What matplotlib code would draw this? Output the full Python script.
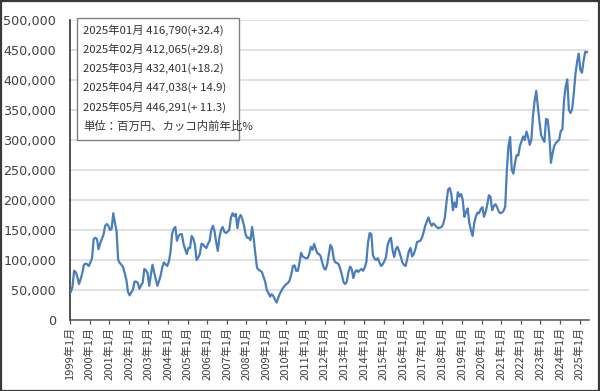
import matplotlib

matplotlib.use("Agg")
import matplotlib.pyplot as plt
from matplotlib.patches import Rectangle

# monthly values (million yen), 1999/01 .. 2025/05
values_k = [
    47, 55, 82, 80, 72, 60, 68, 78, 92, 94, 93, 90,            # 1999
    96, 103, 135, 137, 135, 118, 128, 135, 142, 157, 160, 157,  # 2000
    150, 152, 178, 162, 148, 100, 95, 92, 88, 78, 67, 47,       # 2001
    41, 46, 50, 64, 64, 62, 52, 58, 62, 85, 83, 78,             # 2002
    57, 75, 92, 80, 68, 57, 65, 74, 88, 96, 93, 90,             # 2003
    97, 112, 143, 152, 155, 132, 140, 143, 143, 127, 118, 110,  # 2004
    120, 120, 140, 136, 125, 100, 104, 110, 127, 126, 122, 120, # 2005
    127, 132, 150, 157, 148, 130, 115, 138, 150, 155, 147, 145, # 2006
    147, 150, 170, 178, 173, 177, 153, 170, 175, 168, 158, 143, # 2007
    137, 137, 133, 155, 135, 110, 87, 84, 82, 80, 72, 64,       # 2008
    50, 45, 39, 43, 40, 34, 29, 37, 44, 49, 54, 57,             # 2009
    60, 62, 66, 76, 90, 91, 82, 82, 95, 112, 106, 104,          # 2010
    103, 103, 110, 122, 117, 127, 118, 111, 110, 106, 95, 86,   # 2011
    84, 93, 110, 125, 120, 102, 96, 95, 93, 85, 75, 63,         # 2012
    60, 64, 80, 89, 85, 70, 80, 83, 80, 83, 85, 82,             # 2013
    88, 97, 130, 145, 143, 108, 102, 100, 103, 96, 90, 93,      # 2014
    98, 105, 125, 133, 137, 117, 105, 118, 122, 115, 106, 96,   # 2015
    92, 90, 102, 115, 120, 106, 110, 118, 130, 131, 132, 137,   # 2016
    146, 157, 164, 171, 162, 157, 161, 158, 155, 153, 154, 155, # 2017
    160, 170, 195, 217, 220, 210, 183, 196, 188, 213, 206, 210, # 2018
    200, 172, 180, 186, 162, 150, 140, 161, 172, 179, 178, 185, # 2019
    188, 172, 180, 192, 208, 205, 183, 190, 193, 188, 181, 178, # 2020
    179, 182, 189, 250, 290, 305, 250, 244, 262, 275, 274, 290, # 2021
    298, 306, 300, 314, 305, 292, 300, 340, 365, 382, 355, 330, # 2022
    308, 302, 297, 335, 334, 308, 262, 278, 290, 295, 298, 300, # 2023
    314.8, 317.5, 365.8, 389, 401, 350, 345, 352, 378, 410, 430, 444,  # 2024
    416.79, 412.065, 432.401, 447.038, 446.291,                 # 2025
]
values = [v * 1000 for v in values_k]

years = list(range(1999, 2026))
tick_labels = [f"{y}年1月" for y in years]

note_months = ["2025年01月", "2025年02月", "2025年03月", "2025年04月", "2025年05月"]
note_values = ["416,790", "412,065", "432,401", "447,038", "446,291"]
note_yoy = ["+32.4", "+29.8", "+18.2", "+ 14.9", "+ 11.3"]
note_unit = "単位：百万円、カッコ内前年比%"

yticks = [0, 50000, 100000, 150000, 200000, 250000, 300000, 350000, 400000, 450000, 500000]

W, H = 600, 391
fig = plt.figure(figsize=(W / 100, H / 100), dpi=100)
fig.patch.set_facecolor("white")
ax = fig.add_axes([70 / W, (H - 320) / H, 519 / W, 300 / H])

x = list(range(len(values)))
ax.plot(x, values, color="#4a7ebb", linewidth=1.6, solid_joinstyle="round", zorder=3)

ax.set_ylim(0, 500000)
ax.set_xlim(-0.5, 317.3)
ax.set_yticks(yticks, labels=[f"{v:,}" for v in yticks])
ax.set_xticks([-0.5 + 12 * k for k in range(len(years))], labels=tick_labels)
ax.grid(True, axis="y", color="#d9d9d9", linewidth=1.1)
ax.set_axisbelow(True)

for side in ("top", "right"):
    ax.spines[side].set_visible(False)
ax.spines["left"].set_color("#222222")
ax.spines["bottom"].set_color("#555555")
ax.spines["left"].set_linewidth(1.1)
ax.spines["bottom"].set_linewidth(1.1)

ax.tick_params(axis="y", length=0, pad=10, labelsize=9.2, labelcolor="#404040")
ax.tick_params(axis="x", length=3, width=0.9, color="#555555", pad=2,
               labelsize=8, labelcolor="#404040", labelrotation=90)
for lab in ax.get_xticklabels():
    lab.set_family(["Noto Sans CJK JP", "DejaVu Sans"])

# note box in the upper left
box = Rectangle((77 / W, 1 - 140 / H), 162 / W, 122 / H, transform=fig.transFigure,
                facecolor="white", edgecolor="#808080", linewidth=1.0, zorder=5)
fig.add_artist(box)
lines = [f"{m} {v}({y})" for m, v, y in zip(note_months, note_values, note_yoy)]
lines.append(note_unit)
for k, txt in enumerate(lines):
    fig.text(83 / W, 1 - (30 + 19.2 * k) / H, txt, ha="left", va="center",
             fontsize=8.2, color="#333333", family=["Noto Sans CJK JP", "DejaVu Sans"],
             zorder=6)

# outer chart frame
fig.add_artist(Rectangle((0.5 / W, 0.5 / H), (W - 1.5) / W, (H - 1.5) / H,
                         transform=fig.transFigure, fill=False,
                         edgecolor="#3a3a3a", linewidth=1.6))

fig.savefig("out.png", dpi=100)
plt.close(fig)
